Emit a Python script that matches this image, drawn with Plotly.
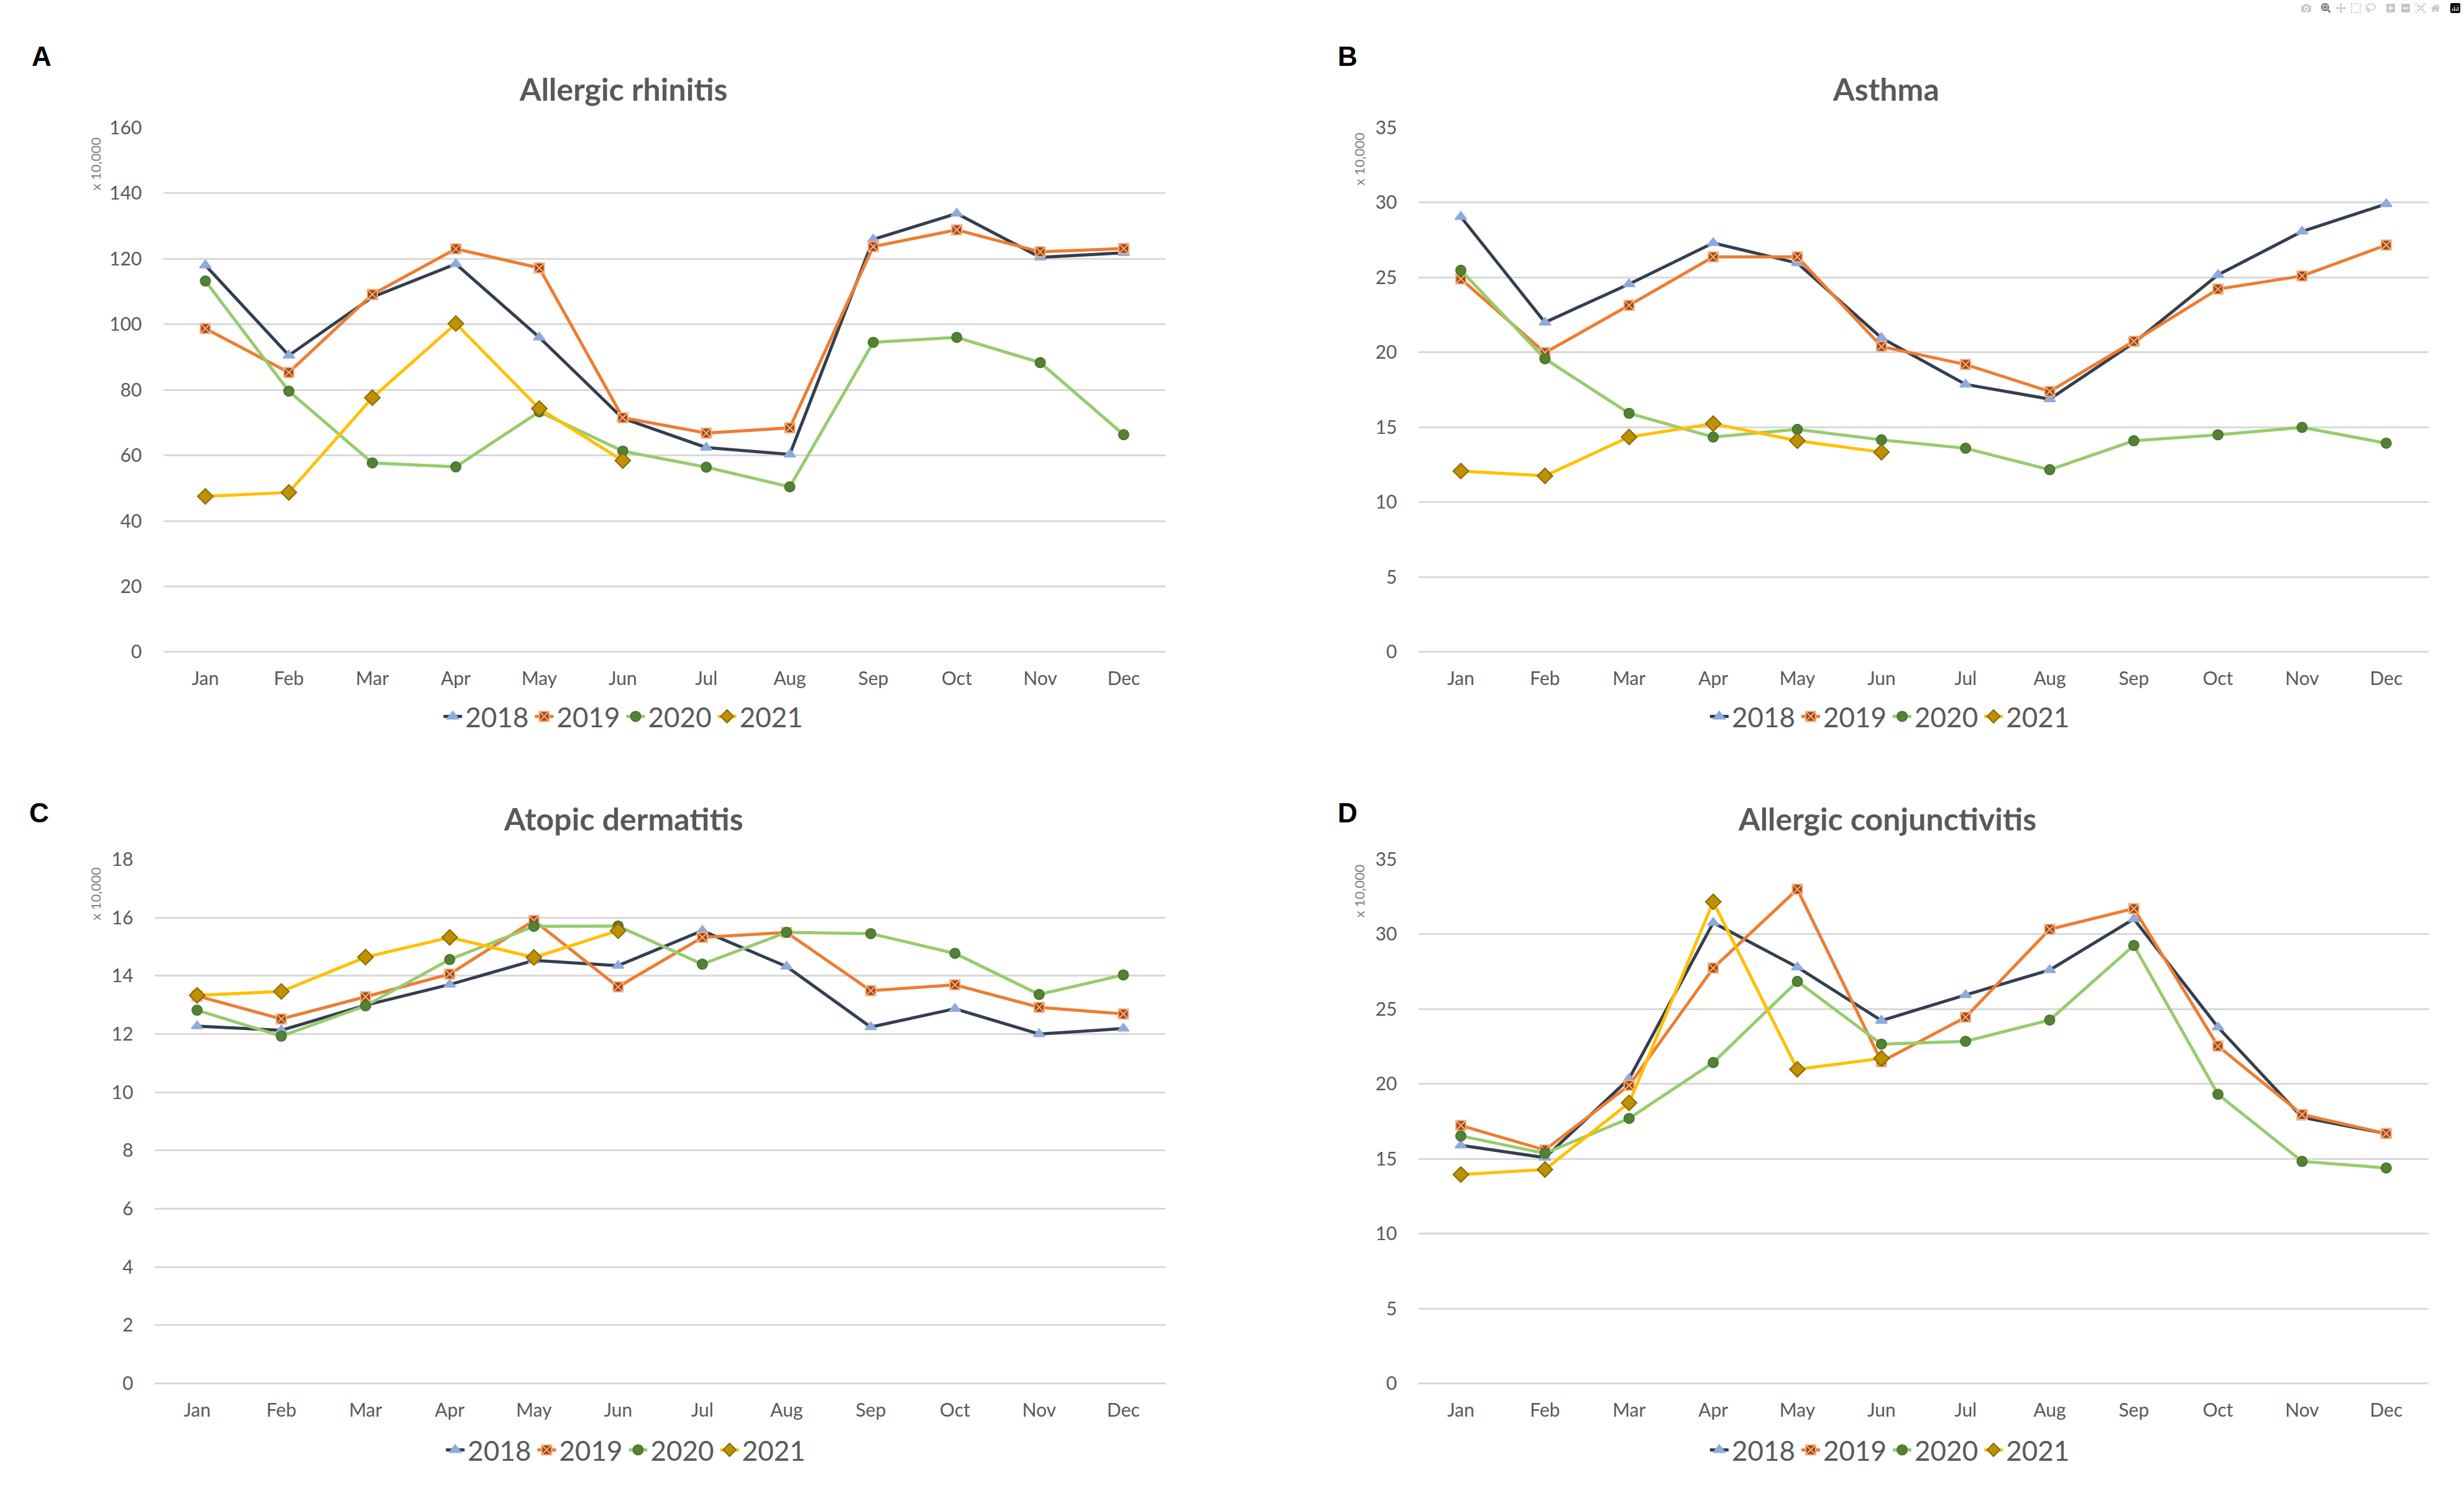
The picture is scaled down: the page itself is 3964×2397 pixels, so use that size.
import plotly.graph_objects as go

months = ['Jan', 'Feb', 'Mar', 'Apr', 'May', 'Jun', 'Jul', 'Aug', 'Sep', 'Oct', 'Nov', 'Dec']
years = ['2018', '2019', '2020', '2021']

# Allergic rhinitis (x 10,000)
ar_2018 = [118, 90.5, 108.3, 118.4, 96, 71.3, 62.4, 60.3, 125.9, 133.8, 120.4, 121.8]
ar_2019 = [98.7, 85.3, 109.1, 123, 117.2, 71.5, 66.8, 68.4, 123.7, 128.8, 122.1, 123.1]
ar_2020 = [113.2, 79.6, 57.7, 56.5, 73.3, 61.3, 56.4, 50.4, 94.5, 96, 88.3, 66.3]
ar_2021 = [47.5, 48.7, 77.6, 100.2, 74.3, 58.4]

# Asthma
as_2018 = [29.05, 22.0, 24.56, 27.3, 25.96, 20.96, 17.86, 16.88, 20.64, 25.17, 28.07, 29.9]
as_2019 = [24.9, 19.98, 23.14, 26.37, 26.37, 20.39, 19.19, 17.39, 20.74, 24.22, 25.1, 27.16]
as_2020 = [25.48, 19.57, 15.93, 14.35, 14.86, 14.16, 13.6, 12.17, 14.1, 14.5, 14.99, 13.94]
as_2021 = [12.08, 11.76, 14.35, 15.24, 14.1, 13.34]

# Atopic dermatitis
ad_2018 = [12.27, 12.13, 12.99, 13.7, 14.53, 14.35, 15.55, 14.32, 12.24, 12.87, 12.0, 12.19]
ad_2019 = [13.31, 12.52, 13.28, 14.06, 15.9, 13.62, 15.32, 15.49, 13.49, 13.69, 12.92, 12.69]
ad_2020 = [12.82, 11.93, 12.97, 14.56, 15.7, 15.71, 14.4, 15.49, 15.45, 14.77, 13.36, 14.03]
ad_2021 = [13.33, 13.46, 14.64, 15.32, 14.63, 15.55]

# Allergic conjunctivitis
ac_2018 = [15.9, 15.08, 20.35, 30.77, 27.8, 24.23, 25.94, 27.61, 31.02, 23.79, 17.77, 16.69]
ac_2019 = [17.23, 15.59, 19.91, 27.74, 33.0, 21.49, 24.46, 30.33, 31.71, 22.53, 17.96, 16.69]
ac_2020 = [16.53, 15.37, 17.7, 21.43, 26.85, 22.66, 22.85, 24.27, 29.25, 19.31, 14.83, 14.39]
ac_2021 = [13.95, 14.29, 18.74, 32.16, 20.98, 21.71]

panel_letters = ['A', 'B', 'C', 'D']
panel_titles = ['Allergic rhinitis', 'Asthma', 'Atopic dermatitis', 'Allergic conjunctivitis']
panel_data = [
    [ar_2018, ar_2019, ar_2020, ar_2021],
    [as_2018, as_2019, as_2020, as_2021],
    [ad_2018, ad_2019, ad_2020, ad_2021],
    [ac_2018, ac_2019, ac_2020, ac_2021],
]
y_max = [160, 35, 18, 35]
y_dtick = [20, 5, 2, 5]

# layout geometry (paper fractions)
x_domains = [[0.0664, 0.473], [0.5758, 0.9855], [0.0629, 0.473], [0.5758, 0.9855]]
y_domains = [[0.564, 0.9215], [0.564, 0.9215], [0.0654, 0.4227], [0.0654, 0.4227]]
title_pos = [(0.253, 0.948), (0.7655, 0.948), (0.253, 0.4504), (0.766, 0.4504)]
letter_pos = [(0.0169, 0.970), (0.547, 0.970), (0.016, 0.4543), (0.547, 0.4543)]
unit_pos = [(0.0387, 0.897), (0.5516, 0.90), (0.0387, 0.3995), (0.5516, 0.401)]
legend_pos = [(0.253, 0.52), (0.767, 0.52), (0.254, 0.02), (0.767, 0.02)]

line_colors = ['#333F50', '#ED7D31', '#97CB6E', '#FFC000']
marker_symbols = ['triangle-up', 'square-x', 'circle', 'diamond']
marker_fill = ['#8FAADC', '#A5480F', '#548235', '#BF9000']
marker_edge = ['#8FAADC', '#F4B183', '#4A752E', '#8A6A00']
marker_size = [16, 16, 16, 19]

FONT = 'Lato, Carlito, Calibri, sans-serif'
GRAY = '#595959'

fig = go.Figure()
layout = {}
annotations = []

for p in range(4):
    ax = '' if p == 0 else str(p + 1)
    lg = 'legend' if p == 0 else 'legend' + str(p + 1)
    for k in range(4):
        vals = panel_data[p][k]
        fig.add_trace(go.Scatter(
            x=months[:len(vals)], y=vals, name=years[k],
            mode='lines+markers',
            line=dict(color=line_colors[k], width=5),
            marker=dict(symbol=marker_symbols[k], size=marker_size[k], color=marker_fill[k],
                        line=dict(color=marker_edge[k], width=2)),
            xaxis='x' + ax, yaxis='y' + ax, legend=lg,
        ))
    layout['xaxis' + ax] = dict(
        domain=x_domains[p], anchor='y' + ax, type='category',
        categoryorder='array', categoryarray=months, range=[-0.5, 11.5],
        showgrid=False, showline=False, zeroline=False, ticks='',
        ticklabelstandoff=22,
        tickfont=dict(family=FONT, size=30, color=GRAY),
    )
    layout['yaxis' + ax] = dict(
        domain=y_domains[p], anchor='x' + ax, range=[0, y_max[p]], dtick=y_dtick[p],
        showgrid=True, gridcolor='#D9D9D9', gridwidth=3, zeroline=True,
        zerolinecolor='#D9D9D9', zerolinewidth=3, showline=False, ticks='',
        ticklabelstandoff=34,
        tickfont=dict(family=FONT, size=30, color=GRAY),
    )
    layout[lg] = dict(
        orientation='h', x=legend_pos[p][0], y=legend_pos[p][1],
        xanchor='center', yanchor='middle', bgcolor='rgba(0,0,0,0)',
        font=dict(family=FONT, size=44, color=GRAY), itemwidth=30,
        traceorder='normal',
    )
    annotations.append(dict(
        text='<b>' + panel_titles[p] + '</b>', x=title_pos[p][0], y=title_pos[p][1],
        xref='paper', yref='paper', showarrow=False, xanchor='center', yanchor='middle',
        font=dict(family=FONT, size=50, color=GRAY),
    ))
    annotations.append(dict(
        text='<b>' + panel_letters[p] + '</b>', x=letter_pos[p][0], y=letter_pos[p][1],
        xref='paper', yref='paper', showarrow=False, xanchor='center', yanchor='middle',
        font=dict(family='Liberation Sans, Arial, sans-serif', size=44, color='#000000'),
    ))
    annotations.append(dict(
        text='x 10,000', x=unit_pos[p][0], y=unit_pos[p][1], textangle=-90,
        xref='paper', yref='paper', showarrow=False, xanchor='center', yanchor='middle',
        font=dict(family=FONT, size=22, color='#7F7F7F'),
    ))

fig.update_layout(
    width=3964, height=2397,
    margin=dict(l=0, r=0, t=0, b=0),
    paper_bgcolor='white', plot_bgcolor='white',
    annotations=annotations,
    **layout,
)

fig.write_html('out.html', post_script="document.body.style.margin='0';")
